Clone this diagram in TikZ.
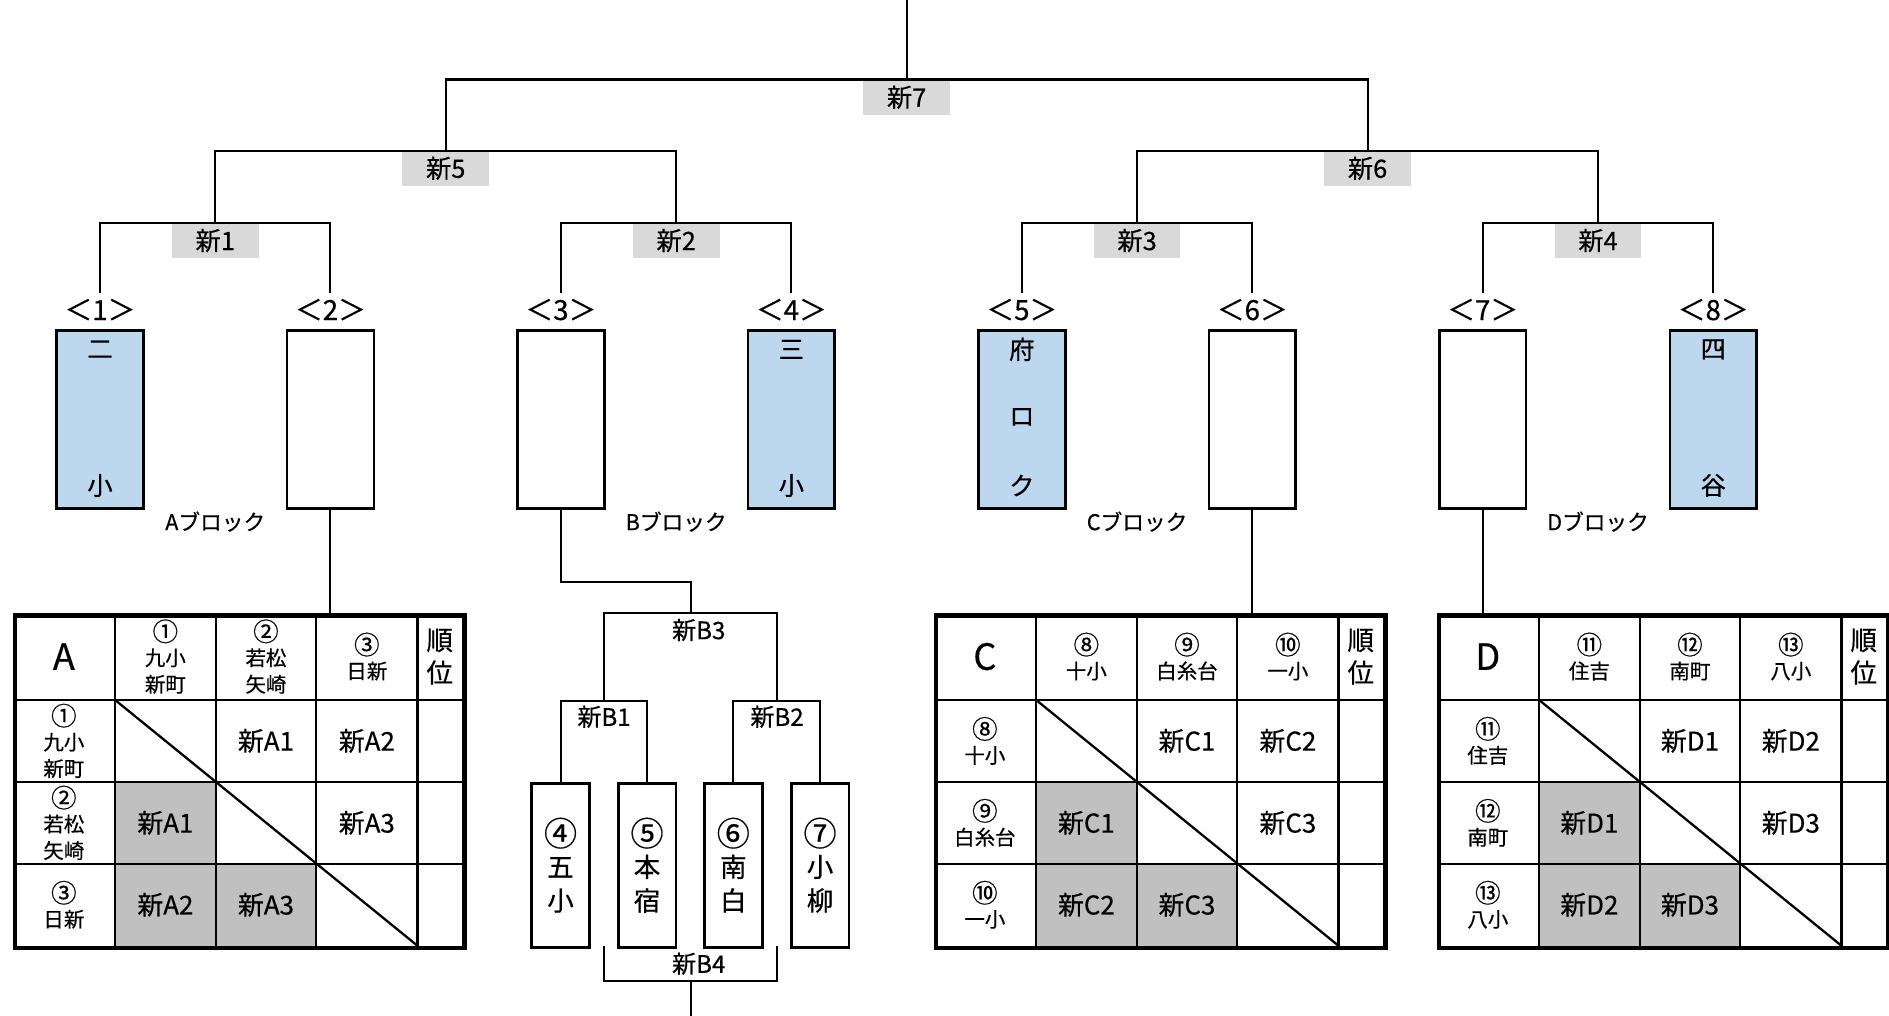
\documentclass[tikz,border=0pt]{standalone}
\usepackage{fontspec}
\setmainfont{Noto Sans CJK JP}[FakeBold=0.5]
\definecolor{lblgray}{HTML}{D9D9D9}
\definecolor{cellgray}{HTML}{C0C0C0}
\definecolor{lblue}{HTML}{BDD7EE}
\newcommand\cn[1]{{\fontsize{1.25em}{1em}\selectfont\raisebox{-0.08em}{#1}}}
\tikzset{
  tline/.style={line width=1.7pt},
  glabel/.style={fill=lblgray, minimum width=72pt, minimum height=29pt, inner sep=0pt, anchor=north, font=\fontsize{21}{21}\selectfont},
  numlabel/.style={inner sep=0pt, minimum height=28pt, font=\fontsize{23}{23}\selectfont},
  teambox/.style={draw, line width=2.2pt, minimum width=72pt, minimum height=148pt, inner sep=0pt, anchor=north},
  bluebox/.style={teambox, fill=lblue},
  boxchar/.style={inner sep=0pt, font=\fontsize{21}{21}\selectfont},
  blocklabel/.style={inner sep=0pt, font=\fontsize{18}{18}\selectfont},
  gridline/.style={line width=1.9pt},
  tabframe/.style={draw, line width=3.8pt, minimum width=373pt, minimum height=276pt, inner sep=0pt, anchor=north west},
  bigletter/.style={inner sep=0pt, font=\fontsize{30}{30}\selectfont},
  teamtxt/.style={inner sep=0pt, align=center, font=\fontsize{17}{22}\selectfont},
  ranktxt/.style={inner sep=0pt, align=center, font=\fontsize{22}{27}\selectfont},
  gametxt/.style={inner sep=0pt, font=\fontsize{21.5}{21.5}\selectfont},
  sbox/.style={draw, line width=2.4pt, minimum width=48pt, minimum height=136pt, inner sep=0pt, anchor=north, align=center, font=\fontsize{22}{28}\selectfont},
  blabel/.style={inner sep=0pt, font=\fontsize{20}{20}\selectfont}
}
\newcommand\rrtable[6]{%
  \begin{scope}[shift={(#2,0)}]
    \fill[cellgray] (85,649) rectangle (168.5,785);
    \fill[cellgray] (168.5,717) rectangle (252,785);
    \draw[gridline] (85,509) -- (85,785) (168.5,509) -- (168.5,785)
      (252,509) -- (252,785) (336,509) -- (336,785)
      (0,581) -- (373,581) (0,649) -- (373,649) (0,717) -- (373,717);
    \draw[gridline] (85,581) -- (336,785);
    \node[tabframe] (#1box) at (0,509) {};
    \node[bigletter] (#1h0) at (42.5,545) {#3};
    \node[teamtxt] (#1h1) at (126.75,545) {#4};
    \node[teamtxt] (#1h2) at (210.25,545) {#5};
    \node[teamtxt] (#1h3) at (294,545) {#6};
    \node[ranktxt] (#1h4) at (354.5,545) {順\\位};
    \node[teamtxt] (#1r1) at (42.5,615) {#4};
    \node[teamtxt] (#1r2) at (42.5,683) {#5};
    \node[teamtxt] (#1r3) at (42.5,751) {#6};
    \node[gametxt] (#1g12) at (210.25,615) {新#31};
    \node[gametxt] (#1g13) at (294,615) {新#32};
    \node[gametxt] (#1g23) at (294,683) {新#33};
    \node[gametxt] (#1g21) at (126.75,683) {新#31};
    \node[gametxt] (#1g31) at (126.75,751) {新#32};
    \node[gametxt] (#1g32) at (210.25,751) {新#33};
  \end{scope}}
\begin{document}
\begin{tikzpicture}[x=1pt, y=-1pt]
\useasboundingbox (0,0) rectangle (1568,843);
% ---- main bracket labels
\coordinate (top) at (752.55,0);
\node[glabel] (g7) at (752.55,66) {新7};
\node[glabel] (g5) at (369.95,125) {新5};
\node[glabel] (g6) at (1135.15,125) {新6};
\node[glabel] (g1) at (178.65,185) {新1};
\node[glabel] (g2) at (561.25,185) {新2};
\node[glabel] (g3) at (943.85,185) {新3};
\node[glabel] (g4) at (1326.45,185) {新4};
% ---- number labels
\node[numlabel] (l1) at (83,257) {＜1＞};
\node[numlabel] (l2) at (274.3,257) {＜2＞};
\node[numlabel] (l3) at (465.6,257) {＜3＞};
\node[numlabel] (l4) at (656.9,257) {＜4＞};
\node[numlabel] (l5) at (848.2,257) {＜5＞};
\node[numlabel] (l6) at (1039.5,257) {＜6＞};
\node[numlabel] (l7) at (1230.8,257) {＜7＞};
\node[numlabel] (l8) at (1422.1,257) {＜8＞};
% ---- team boxes
\node[bluebox] (t1) at (83,273) {};
\node[teambox] (t2) at (274.3,273) {};
\node[teambox] (t3) at (465.6,273) {};
\node[bluebox] (t4) at (656.9,273) {};
\node[bluebox] (t5) at (848.2,273) {};
\node[teambox] (t6) at (1039.5,273) {};
\node[teambox] (t7) at (1230.8,273) {};
\node[bluebox] (t8) at (1422.1,273) {};
\node[boxchar] (t1a) at (83,290) {二};
\node[boxchar] (t1b) at (83,403) {小};
\node[boxchar] (t4a) at (656.9,290) {三};
\node[boxchar] (t4b) at (656.9,403) {小};
\node[boxchar] (t5a) at (848.2,290) {府};
\node[boxchar] (t5b) at (848.2,346) {ロ};
\node[boxchar] (t5c) at (848.2,403) {ク};
\node[boxchar] (t8a) at (1422.1,290) {四};
\node[boxchar] (t8b) at (1422.1,403) {谷};
% ---- block labels
\node[blocklabel] (ba) at (178.65,433) {Aブロック};
\node[blocklabel] (bb) at (561.25,433) {Bブロック};
\node[blocklabel] (bc) at (943.85,433) {Cブロック};
\node[blocklabel] (bd) at (1326.45,433) {Dブロック};
% ---- tree lines
\draw[tline] (top) -- (g7.north);
\draw[tline] (g5.north) |- (g7.north) -| (g6.north);
\draw[tline] (g1.north) |- (g5.north) -| (g2.north);
\draw[tline] (g3.north) |- (g6.north) -| (g4.north);
\draw[tline] (l1.north) |- (g1.north) -| (l2.north);
\draw[tline] (l3.north) |- (g2.north) -| (l4.north);
\draw[tline] (l5.north) |- (g3.north) -| (l6.north);
\draw[tline] (l7.north) |- (g4.north) -| (l8.north);
% ---- round robin tables
\rrtable{A}{10.5}{A}{\cn{①}\\九小\\新町}{\cn{②}\\若松\\矢崎}{\cn{③}\\日新}
\rrtable{C}{775}{C}{\cn{⑧}\\十小}{\cn{⑨}\\白糸台}{\cn{⑩}\\一小}
\rrtable{D}{1192.5}{D}{\cn{⑪}\\住吉}{\cn{⑫}\\南町}{\cn{⑬}\\八小}
\draw[tline] (t2.south) -- (t2.south |- Abox.north);
\draw[tline] (t6.south) -- (t6.south |- Cbox.north);
\draw[tline] (t7.south) -- (t7.south |- Dbox.north);
% ---- B block
\node[sbox] (s4) at (465.3,649) {\cn{④}\\五\\小};
\node[sbox] (s5) at (537.1,649) {\cn{⑤}\\本\\宿};
\node[sbox] (s6) at (608.7,649) {\cn{⑥}\\南\\白};
\node[sbox] (s7) at (680.7,649) {\cn{⑦}\\小\\柳};
\coordinate (b3top) at (573.3,509);
\coordinate (b1top) at (501,582);
\coordinate (b2top) at (645,582);
\coordinate (b4l) at (501,785);
\coordinate (b4r) at (645,785);
\coordinate (b4bot) at (573.3,814);
\coordinate (bottom) at (573.3,843);
\node[blabel] (nb3) at (580,523) {新B3};
\node[blabel] (nb1) at (501.4,595) {新B1};
\node[blabel] (nb2) at (645,595) {新B2};
\node[blabel] (nb4) at (580,800) {新B4};
\draw[tline] (t3.south) -- ++(0,60) -| (b3top);
\draw[tline] (b1top) |- (b3top) -| (b2top);
\draw[tline] (s4.north) |- (b1top) -| (s5.north);
\draw[tline] (s6.north) |- (b2top) -| (s7.north);
\draw[tline] (b4l) |- (b4bot) -| (b4r);
\draw[tline] (b4bot) -- (bottom);
\end{tikzpicture}
\end{document}
